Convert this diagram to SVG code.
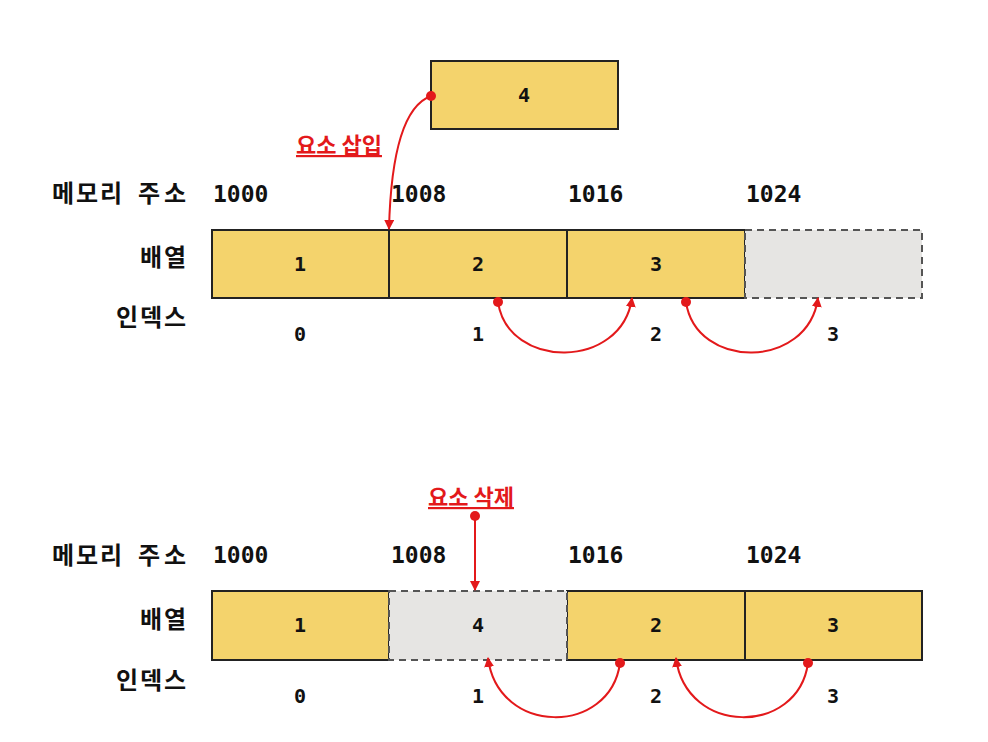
<svg xmlns="http://www.w3.org/2000/svg" width="988" height="742" viewBox="0 0 988 742">
<style>
.lbl{font-family:"Noto Sans CJK KR","Noto Sans",sans-serif;font-weight:700;font-size:24px;fill:#111}
.num{font-family:"DejaVu Sans Mono","Liberation Mono",monospace;font-weight:700;font-size:23px;fill:#111}
.val{font-family:"DejaVu Sans Mono","Liberation Mono",monospace;font-weight:700;font-size:20px;fill:#111;text-anchor:middle}
.red{font-family:"Noto Sans CJK KR","Noto Sans",sans-serif;font-weight:700;font-size:22px;fill:#e3191b;text-decoration:underline}
.cell{fill:#f4d36c;stroke:#222;stroke-width:2}
.empty{fill:#e6e5e3;stroke:#555;stroke-width:2;stroke-dasharray:7 5}
.conn{fill:none;stroke:#e3191b;stroke-width:2}
.dot{fill:#e3191b}
</style>
<defs>
<marker id="ah" viewBox="0 0 10 10" refX="9" refY="5" markerWidth="10" markerHeight="10" markerUnits="userSpaceOnUse" orient="auto">
<path d="M0,0 L10,5 L0,10 z" fill="#e3191b"/>
</marker>
</defs>

<g id="labels-top">
<text class="lbl" x="52" y="202" textLength="70" lengthAdjust="spacing">메모리</text>
<text class="lbl" x="138" y="202" textLength="48" lengthAdjust="spacing">주소</text>
<text class="lbl" x="140" y="266" textLength="46" lengthAdjust="spacing">배열</text>
<text class="lbl" x="116" y="326" textLength="70" lengthAdjust="spacing">인덱스</text>
<text class="num" x="213" y="202">1000</text>
<text class="num" x="391" y="202">1008</text>
<text class="num" x="568" y="202">1016</text>
<text class="num" x="746" y="202">1024</text>
<text class="val" x="300" y="341">0</text>
<text class="val" x="478" y="341">1</text>
<text class="val" x="656" y="341">2</text>
<text class="val" x="833" y="341">3</text>
</g>

<g id="new-node">
<rect class="cell" x="431" y="61" width="187" height="68"/>
<text class="val" x="524" y="102">4</text>
</g>

<g id="array-top">
<rect class="cell" x="212" y="230" width="177" height="68"/>
<rect class="cell" x="389" y="230" width="178" height="68"/>
<rect class="cell" x="567" y="230" width="178" height="68"/>
<rect class="empty" x="745" y="230" width="177" height="68"/>
<text class="val" x="300" y="271">1</text>
<text class="val" x="478" y="271">2</text>
<text class="val" x="656" y="271">3</text>
</g>

<g id="insert-label">
<text class="red" x="296" y="153">요소 삽입</text>
</g>

<g id="labels-bottom">
<text class="lbl" x="52" y="564" textLength="70" lengthAdjust="spacing">메모리</text>
<text class="lbl" x="138" y="564" textLength="48" lengthAdjust="spacing">주소</text>
<text class="lbl" x="140" y="628" textLength="46" lengthAdjust="spacing">배열</text>
<text class="lbl" x="116" y="689" textLength="70" lengthAdjust="spacing">인덱스</text>
<text class="num" x="213" y="563">1000</text>
<text class="num" x="391" y="563">1008</text>
<text class="num" x="568" y="563">1016</text>
<text class="num" x="746" y="563">1024</text>
<text class="val" x="300" y="703">0</text>
<text class="val" x="478" y="703">1</text>
<text class="val" x="656" y="703">2</text>
<text class="val" x="833" y="703">3</text>
</g>

<g id="array-bottom">
<rect class="cell" x="212" y="591" width="177" height="69"/>
<rect class="cell" x="567" y="591" width="178" height="69"/>
<rect class="cell" x="745" y="591" width="177" height="69"/>
<rect class="empty" x="389" y="591" width="178" height="69"/>
<text class="val" x="300" y="632">1</text>
<text class="val" x="478" y="632">4</text>
<text class="val" x="656" y="632">2</text>
<text class="val" x="833" y="632">3</text>
</g>

<g id="delete-label">
<text class="red" x="428" y="505">요소 삭제</text>
</g>

<g id="connectors">
<path class="conn" d="M431,96 Q392,110 389,229" marker-end="url(#ah)"/>
<circle class="dot" cx="431" cy="96" r="5"/>
<path class="conn" d="M498,302 C508,370 622,370 632,298" marker-end="url(#ah)"/>
<circle class="dot" cx="498" cy="302" r="5"/>
<path class="conn" d="M686,302 C696,370 808,370 818,298" marker-end="url(#ah)"/>
<circle class="dot" cx="686" cy="302" r="5"/>
<path class="conn" d="M475,516 L475,590" marker-end="url(#ah)"/>
<circle class="dot" cx="475" cy="516" r="5"/>
<path class="conn" d="M620,663 C610,736 498,736 488,658" marker-end="url(#ah)"/>
<circle class="dot" cx="620" cy="663" r="5"/>
<path class="conn" d="M808,663 C798,736 686,736 676,658" marker-end="url(#ah)"/>
<circle class="dot" cx="808" cy="663" r="5"/>
</g>
</svg>
